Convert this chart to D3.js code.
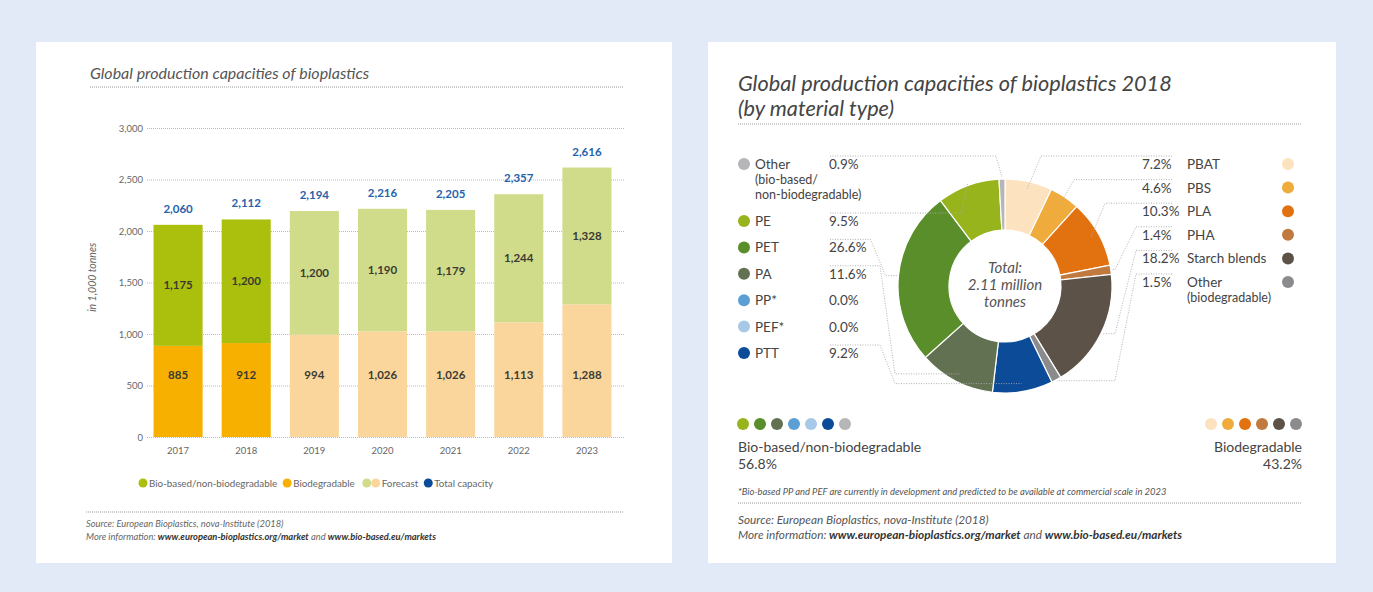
<!DOCTYPE html>
<html>
<head>
<meta charset="utf-8">
<script src="https://cdn.jsdelivr.net/npm/d3@7"></script>
<style>
body { margin: 0; background: #e1eaf6; }
svg { display: block; font-family: Lato, "Open Sans", sans-serif; }
</style>
</head>
<body>
<svg id="chart" width="1373" height="592"></svg>
<script>
// ---- bar chart data (in 1,000 tonnes)
var years = ["2017", "2018", "2019", "2020", "2021", "2022", "2023"];
var bioBased = [1175, 1200, 1200, 1190, 1179, 1244, 1328];
var biodegradable = [885, 912, 994, 1026, 1026, 1113, 1288];
var totals = [2060, 2112, 2194, 2216, 2205, 2357, 2616];
var firstForecast = "2019";
var yTicks = [0, 500, 1000, 1500, 2000, 2500, 3000];

// ---- donut data (share in %)
var bioBasedTypes = ["Other", "PE", "PET", "PA", "PP*", "PEF*", "PTT"];
var bioBasedShares = [0.9, 9.5, 26.6, 11.6, 0.0, 0.0, 9.2];
var biodegTypes = ["PBAT", "PBS", "PLA", "PHA", "Starch blends", "Other"];
var biodegShares = [7.2, 4.6, 10.3, 1.4, 18.2, 1.5];
var groupTotals = ["56.8%", "43.2%"];

var bioBasedColors = ["#b6b6b8", "#97b41c", "#5a8e2a", "#627152", "#5b9fd5", "#a8c8e8", "#0b4b98"];
var biodegColors = ["#fde2bf", "#efab3c", "#e2710f", "#c07a3f", "#5d5248", "#8b8b8d"];

var svg = d3.select("#chart");
var grey = "#555";

function dotted(x1, x2, y) {
    svg.append("line")
        .attr("x1", x1).attr("x2", x2).attr("y1", y).attr("y2", y)
        .attr("stroke", "#999").attr("stroke-width", 1)
        .attr("stroke-dasharray", "1,1");
}

// panels
svg.append("rect").attr("x", 36).attr("y", 42).attr("width", 636).attr("height", 521).attr("fill", "#fff");
svg.append("rect").attr("x", 708).attr("y", 42).attr("width", 628).attr("height", 521).attr("fill", "#fff");

// ================= left: stacked bars =================
svg.append("text")
    .attr("x", 90).attr("y", 79)
    .attr("font-size", 16).attr("font-style", "italic").attr("fill", grey)
    .text("Global production capacities of bioplastics");
dotted(90, 624, 87);

var x = d3.scaleBand()
    .domain(years)
    .range([144, 621])
    .paddingInner(0.28)
    .paddingOuter(0.14);
var y = d3.scaleLinear()
    .domain([0, 3000])
    .range([437, 128]);

var y_axis = svg.append("g")
    .attr("transform", "translate(147,0)")
    .call(d3.axisLeft(y)
        .tickValues(yTicks)
        .tickSize(-(624 - 147))
        .tickPadding(4)
        .tickFormat(d3.format(",")));
y_axis.select(".domain").remove();
y_axis.selectAll("line").attr("stroke", "#bbb").attr("stroke-dasharray", "1,1");
y_axis.selectAll("text").attr("fill", "#666").attr("font-size", 9.5)
    .attr("font-family", "Lato, 'Open Sans', sans-serif");

svg.append("text")
    .attr("transform", "translate(96," + y(1550) + ") rotate(-90)")
    .attr("text-anchor", "middle")
    .attr("font-size", 10.5).attr("font-style", "italic").attr("fill", "#666")
    .text("in 1,000 tonnes");

var x_axis = svg.append("g")
    .attr("transform", "translate(0," + y(0) + ")")
    .call(d3.axisBottom(x).tickSize(0).tickPadding(10));
x_axis.select(".domain").remove();
x_axis.selectAll("text").attr("fill", "#666").attr("font-size", 9.5)
    .attr("font-family", "Lato, 'Open Sans', sans-serif");

function forecast(i) { return years.indexOf(firstForecast) <= i; }

var bars = svg.append("g");
years.forEach(function (yr, i) {
    bars.append("rect")
        .attr("x", x(yr)).attr("width", x.bandwidth())
        .attr("y", y(biodegradable[i])).attr("height", y(0) - y(biodegradable[i]))
        .attr("fill", forecast(i) ? "#fbd69c" : "#f7b000");
    bars.append("rect")
        .attr("x", x(yr)).attr("width", x.bandwidth())
        .attr("y", y(totals[i])).attr("height", y(biodegradable[i]) - y(totals[i]))
        .attr("fill", forecast(i) ? "#d1dc8b" : "#abc00c");
    var cx = x(yr) + x.bandwidth() / 2;
    bars.append("text")
        .attr("x", cx).attr("y", y(600) + 4)
        .attr("text-anchor", "middle").attr("font-size", 11.5).attr("font-weight", "bold").attr("fill", "#3b3b33")
        .text(d3.format(",")(biodegradable[i]));
    bars.append("text")
        .attr("x", cx).attr("y", y((biodegradable[i] + totals[i]) / 2) + 4)
        .attr("text-anchor", "middle").attr("font-size", 11.5).attr("font-weight", "bold").attr("fill", "#3b3b33")
        .text(d3.format(",")(bioBased[i]));
    bars.append("text")
        .attr("x", cx).attr("y", y(totals[i]) - 12)
        .attr("text-anchor", "middle").attr("font-size", 11.5).attr("font-weight", "bold").attr("fill", "#2563ab")
        .text(d3.format(",")(totals[i]));
});

// legend, laid out left to right
var legendY = 483;
var legendItems = [
    { dots: ["#abc00c"], label: "Bio-based/non-biodegradable" },
    { dots: ["#f7b000"], label: "Biodegradable" },
    { dots: ["#d1dc8b", "#fbd69c"], label: "Forecast" },
    { dots: ["#0b4b98"], label: "Total capacity" }
];
var lx = 143;
legendItems.forEach(function (it, n) {
    it.dots.forEach(function (c, k) {
        svg.append("circle").attr("cx", lx + k * 9).attr("cy", legendY).attr("r", 4.5).attr("fill", c);
    });
    var t = svg.append("text")
        .attr("x", lx + (it.dots.length - 1) * 9 + 6).attr("y", legendY + 3.5)
        .attr("font-size", 9.8).attr("fill", "#666")
        .text(it.label);
    lx = lx + (it.dots.length - 1) * 9 + 6 + t.node().getComputedTextLength() + (n === 1 ? 12 : 10);
});

dotted(86, 624, 512);
svg.append("text").attr("x", 86).attr("y", 527)
    .attr("font-size", 9.3).attr("font-style", "italic").attr("fill", "#666")
    .text("Source: European Bioplastics, nova-Institute (2018)");
var more = svg.append("text").attr("x", 86).attr("y", 540)
    .attr("font-size", 9.3).attr("font-style", "italic").attr("fill", "#666");
more.append("tspan").text("More information: ");
more.append("tspan").attr("font-weight", "bold").attr("fill", "#333").text("www.european-bioplastics.org/market");
more.append("tspan").text(" and ");
more.append("tspan").attr("font-weight", "bold").attr("fill", "#333").text("www.bio-based.eu/markets");

// ================= right: donut =================
svg.append("text")
    .attr("x", 738).attr("y", 91)
    .attr("font-size", 21.7).attr("font-style", "italic").attr("fill", "#444")
    .text("Global production capacities of bioplastics 2018");
svg.append("text")
    .attr("x", 738).attr("y", 116)
    .attr("font-size", 21.7).attr("font-style", "italic").attr("fill", "#444")
    .text("(by material type)");
dotted(738, 1302, 124);

var cxD = 1005, cyD = 286, rOut = 107, rIn = 56;

var slices = [];
biodegTypes.forEach(function (t, i) {
    slices.push({ side: "right", row: i, name: t, share: biodegShares[i], color: biodegColors[i] });
});
for (var i = bioBasedTypes.length - 1; i >= 0; i--) {
    slices.push({ side: "left", row: i, name: bioBasedTypes[i], share: bioBasedShares[i], color: bioBasedColors[i] });
}

var pie = d3.pie().sort(null).value(function (d) { return d.share; });
var arc = d3.arc().innerRadius(rIn).outerRadius(rOut);
var arcs = pie(slices);

var donut = svg.append("g").attr("transform", "translate(" + cxD + "," + cyD + ")");
donut.selectAll("path")
    .data(arcs.filter(function (a) { return a.data.share > 0; }))
    .enter().append("path")
    .attr("d", arc)
    .attr("fill", function (a) { return a.data.color; })
    .attr("stroke", "#fff").attr("stroke-width", 1.2);

["Total:", "2.11 million", "tonnes"].forEach(function (t, k) {
    donut.append("text")
        .attr("x", 0).attr("y", -13 + k * 17)
        .attr("text-anchor", "middle")
        .attr("font-size", 15).attr("font-style", "italic").attr("fill", "#555")
        .text(t);
});

function rowYLeft(i) { return i === 0 ? 164 : 221 + (i - 1) * 26.4; }
function rowYRight(i) { return 164 + i * 23.6; }
function pointAt(angle, r) {
    return [cxD + r * Math.sin(angle), cyD - r * Math.cos(angle)];
}

// leader lines
var line = d3.line();
arcs.forEach(function (a) {
    if (a.data.share <= 0) return;
    var mid = (a.startAngle + a.endAngle) / 2;
    var pts;
    if (a.data.side === "right") {
        var top = rowYRight(a.data.row) - 8;
        var p = pointAt(mid, rOut - 8);
        if (p[1] > cyD - 30) {
            p = pointAt(mid, rOut + 1);
            pts = [[1172, top], [1136, top], [1115, p[1]], p];
        } else {
            pts = [[1172, top], [p[0] + 14, top], p];
        }
    } else {
        var topL = rowYLeft(a.data.row) - 8;
        var q = pointAt(mid, rOut + 1);
        if (q[0] > 960 && q[1] < cyD) {
            q = pointAt(mid, rOut + 2);
            pts = [[830, topL], [q[0] - 6, topL], q];
        } else {
            if (q[1] > cyD + rOut * 0.8) q = pointAt(mid, rOut - 8);
            var e = Math.min(q[0] - 12, 895);
            pts = [[830, topL], [e - 15, topL], [e, q[1]], q];
        }
    }
    svg.append("path")
        .attr("d", line(pts))
        .attr("fill", "none").attr("stroke", "#aaa").attr("stroke-width", 0.9)
        .attr("stroke-dasharray", "1,1.5");
});

// left legend
bioBasedTypes.forEach(function (t, i) {
    var yy = rowYLeft(i);
    svg.append("circle").attr("cx", 744).attr("cy", yy).attr("r", 6).attr("fill", bioBasedColors[i]);
    svg.append("text").attr("x", 755).attr("y", yy + 5)
        .attr("font-size", 13.5).attr("fill", "#444").text(t);
    svg.append("text").attr("x", 829).attr("y", yy + 5)
        .attr("font-size", 13.5).attr("fill", "#444").text(d3.format(".1f")(bioBasedShares[i]) + "%");
});
["(bio-based/", "non-biodegradable)"].forEach(function (t, k) {
    svg.append("text").attr("x", 755).attr("y", rowYLeft(0) + 20 + k * 15)
        .attr("font-size", 12.5).attr("fill", "#444").text(t);
});

// right legend
biodegTypes.forEach(function (t, i) {
    var yy = rowYRight(i);
    svg.append("text").attr("x", 1142).attr("y", yy + 5)
        .attr("font-size", 13.5).attr("fill", "#444").text(d3.format(".1f")(biodegShares[i]) + "%");
    svg.append("text").attr("x", 1187).attr("y", yy + 5)
        .attr("font-size", 13.5).attr("fill", "#444").text(t);
    svg.append("circle").attr("cx", 1288).attr("cy", yy).attr("r", 6).attr("fill", biodegColors[i]);
});
svg.append("text").attr("x", 1187).attr("y", rowYRight(5) + 20)
    .attr("font-size", 12.5).attr("fill", "#444").text("(biodegradable)");

// group dots: bio-based row lists "Other" last
var dotsY = 424;
var groupDots = bioBasedColors.slice(1).concat(bioBasedColors.slice(0, 1));
groupDots.forEach(function (c, i) {
    svg.append("circle").attr("cx", 743 + i * 17).attr("cy", dotsY).attr("r", 6).attr("fill", c);
});
biodegColors.forEach(function (c, i) {
    svg.append("circle").attr("cx", 1296 - (biodegColors.length - 1 - i) * 17).attr("cy", dotsY).attr("r", 6).attr("fill", c);
});
svg.append("text").attr("x", 738).attr("y", 452).attr("font-size", 14).attr("fill", "#444")
    .text("Bio-based/non-biodegradable");
svg.append("text").attr("x", 738).attr("y", 469).attr("font-size", 14).attr("fill", "#444")
    .text(groupTotals[0]);
svg.append("text").attr("x", 1302).attr("y", 452).attr("text-anchor", "end").attr("font-size", 14).attr("fill", "#444")
    .text("Biodegradable");
svg.append("text").attr("x", 1302).attr("y", 469).attr("text-anchor", "end").attr("font-size", 14).attr("fill", "#444")
    .text(groupTotals[1]);

svg.append("text").attr("x", 738).attr("y", 495)
    .attr("font-size", 9.4).attr("font-style", "italic").attr("fill", "#555")
    .text("*Bio-based PP and PEF are currently in development and predicted to be available at commercial scale in 2023");
dotted(738, 1302, 503);
svg.append("text").attr("x", 738).attr("y", 524)
    .attr("font-size", 11.8).attr("font-style", "italic").attr("fill", "#555")
    .text("Source: European Bioplastics, nova-Institute (2018)");
var more2 = svg.append("text").attr("x", 738).attr("y", 539)
    .attr("font-size", 11.8).attr("font-style", "italic").attr("fill", "#555");
more2.append("tspan").text("More information: ");
more2.append("tspan").attr("font-weight", "bold").attr("fill", "#333").text("www.european-bioplastics.org/market");
more2.append("tspan").text(" and ");
more2.append("tspan").attr("font-weight", "bold").attr("fill", "#333").text("www.bio-based.eu/markets");
</script>
</body>
</html>
